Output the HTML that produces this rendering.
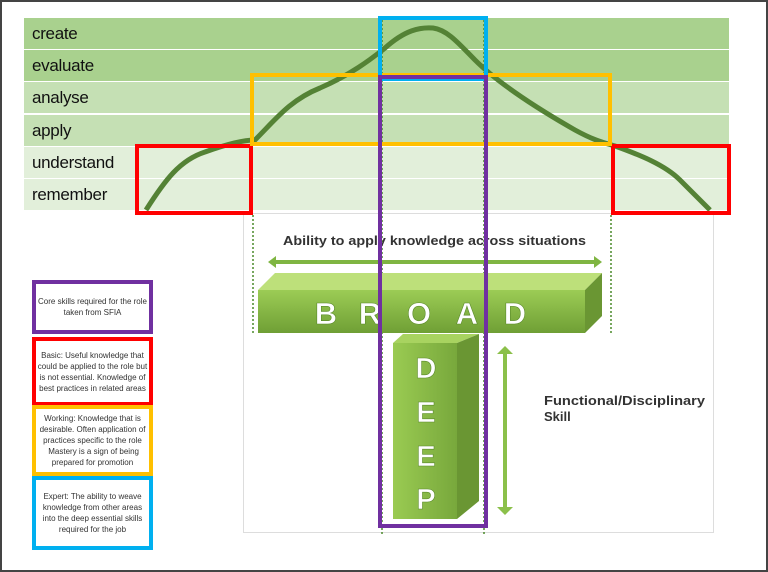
<!DOCTYPE html>
<html><head><style>
body{margin:0;width:768px;height:572px;overflow:hidden;background:#fff;font-family:"Liberation Sans",sans-serif}
#f{position:absolute;left:0;top:0;width:764px;height:568px;border:2px solid #444}
.r{position:absolute;left:24px;width:705px;height:31px;font-size:17px;line-height:31px;padding-left:8px;box-sizing:border-box;color:#111;letter-spacing:-0.3px}
.lg{position:absolute;left:32px;width:121px;box-sizing:border-box;border:4px solid;font-size:8px;line-height:11px;text-align:center;display:flex;align-items:center;justify-content:center;color:#333;background:#fff}
</style></head><body>
<div id="f"></div>
<div class="r" style="top:18px;background:#a9d18e">create</div>
<div class="r" style="top:50px;background:#a9d18e">evaluate</div>
<div class="r" style="top:82px;background:#c5e0b4">analyse</div>
<div class="r" style="top:115px;background:#c5e0b4">apply</div>
<div class="r" style="top:147px;background:#e2efda">understand</div>
<div class="r" style="top:179px;background:#e2efda">remember</div>
<svg width="768" height="572" style="position:absolute;left:0;top:0">
<defs>
<linearGradient id="g1" x1="0" y1="0" x2="0" y2="1"><stop offset="0" stop-color="#9ccc55"/><stop offset="1" stop-color="#6f9f35"/></linearGradient>
<linearGradient id="g2" x1="0" y1="0" x2="1" y2="0"><stop offset="0" stop-color="#9acb52"/><stop offset="1" stop-color="#78a83c"/></linearGradient>
</defs>
<rect x="243.5" y="213.5" width="470" height="319" fill="none" stroke="#ddd"/>
<g stroke="#4a8a2a" stroke-width="1.5" stroke-dasharray="2,2">
<line x1="253" y1="215" x2="253" y2="334"/><line x1="611" y1="215" x2="611" y2="334"/>
<line x1="382" y1="20" x2="382" y2="535"/><line x1="484" y1="20" x2="484" y2="535"/>
</g>
<text x="283" y="245" font-size="13" font-weight="bold" fill="#333" textLength="303" lengthAdjust="spacingAndGlyphs">Ability to apply knowledge across situations</text>
<polygon points="268,262 276,256 276,260 594,260 594,256 602,262 594,268 594,264 276,264 276,268" fill="#7fb542"/>
<polygon points="258,290 275,273 602,273 585,290" fill="#bde07a"/>
<rect x="258" y="290" width="327" height="43" fill="url(#g1)"/>
<polygon points="585,290 602,273 602,316 585,333" fill="#6a9633"/>
<g font-size="31" font-weight="bold" fill="#fff" text-anchor="middle" stroke="#5a8a2a" stroke-width="0.6">
<text x="326" y="324">B</text><text x="370" y="324">R</text><text x="419" y="324">O</text><text x="467" y="324">A</text><text x="515" y="324">D</text>
</g>
<polygon points="393,343 403,334 479,334 457,343" fill="#a8d360"/>
<rect x="393" y="343" width="64" height="176" fill="url(#g2)"/>
<polygon points="457,343 479,334 479,501 457,519" fill="#6a9633"/>
<g font-size="29" font-weight="bold" fill="#fff" text-anchor="middle" stroke="#5a8a2a" stroke-width="0.6">
<text x="426" y="378">D</text><text x="426" y="422">E</text><text x="426" y="466">E</text><text x="426" y="509">P</text>
</g>
<polygon points="505,346 513,354 507,354 507,507 513,507 505,515 497,507 503,507 503,354 497,354" fill="#8bc04a"/>
<text x="544" y="405" font-size="13" font-weight="bold" fill="#333" textLength="161" lengthAdjust="spacingAndGlyphs">Functional/Disciplinary</text>
<text x="544" y="421" font-size="13" font-weight="bold" fill="#333">Skill</text>
<path d="M146,210 C165,180 180,160 205,152 C230,143 245,140 255,140 C275,120 290,100 320,88 C350,75 370,60 385,48 C405,30 420,27 433,28 C448,30 460,45 475,60 C500,85 540,110 575,130 C595,141 605,143 615,146 C640,155 665,165 680,180 C695,195 703,203 710,210" fill="none" stroke="#548235" stroke-width="5"/>
<g fill="none" stroke-width="4">
<rect x="137" y="146" width="114" height="67" stroke="#ff0000"/>
<rect x="613" y="146" width="116" height="67" stroke="#ff0000"/>
<rect x="252" y="75" width="358" height="69" stroke="#ffc000"/>
<rect x="380" y="18" width="106" height="61" stroke="#00b0f0"/>
<rect x="380" y="77" width="106" height="449" stroke="#7030a0"/>
</g>
</svg>
<div class="lg" style="top:280px;height:54px;border-color:#7030a0">Core skills required for the role taken from SFIA</div>
<div class="lg" style="top:337px;height:69px;border-color:#ff0000">Basic: Useful knowledge that could be applied to the role but is not essential. Knowledge of best practices in related areas</div>
<div class="lg" style="top:405px;height:71px;border-color:#ffc000">Working: Knowledge that is desirable. Often application of practices specific to the role &nbsp;Mastery is a sign of being prepared for promotion</div>
<div class="lg" style="top:476px;height:74px;border-color:#00b0f0">Expert: The ability to weave knowledge from other areas into the deep essential skills required for the job</div>
</body></html>
